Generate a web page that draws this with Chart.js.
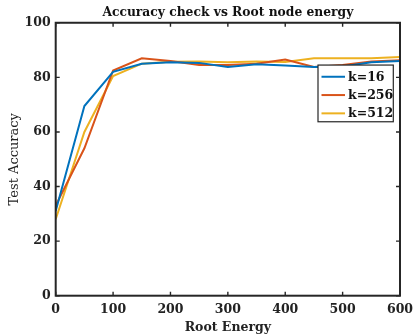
<!DOCTYPE html>
<html>
<head>
<meta charset="utf-8">
<script src="https://cdn.jsdelivr.net/npm/chart.js@4.4.1/dist/chart.umd.min.js"></script>
<style>
html,body{margin:0;padding:0;background:#fff;}
#wrap{width:414px;height:335px;position:relative;}
</style>
</head>
<body>
<div id="wrap"><canvas id="c" width="414" height="335"></canvas></div>
<script>
// ---- data ----
const rootEnergy = [0, 50, 100, 150, 200, 250, 300, 350, 400, 450, 500, 550, 600];
const accK16  = [31, 69.5, 82, 85, 85.5, 85.3, 83.8, 84.8, 84.3, 83.8, 84, 85.5, 86];
const accK256 = [33, 54, 82.5, 87, 86, 84.5, 84.5, 85, 86.5, 83.8, 84.5, 85.8, 86.3];
const accK512 = [28, 60, 80.5, 85, 85.7, 85.8, 85.5, 85.8, 85.6, 87, 87, 87, 87.5];
const seriesLabels = ['k=16', 'k=256', 'k=512'];
const xTickStep = 100;
const yTickStep = 20;

const colors = ['#0072BD', '#D95319', '#EDB120'];
const axisColor = '#262626';
const serif = '"DejaVu Serif", "Liberation Serif", serif';

function pts(vals){ return rootEnergy.map((e,i)=>({x:e, y:vals[i]})); }

const boxPlugin = {
  id: 'matlabBox',
  afterDatasetsDraw(chart){
    const ctx = chart.ctx;
    const a = chart.chartArea;
    const xs = chart.scales.x, ys = chart.scales.y;
    ctx.save();
    ctx.strokeStyle = axisColor;
    ctx.lineWidth = 2;
    ctx.strokeRect(a.left, a.top, a.right - a.left, a.bottom - a.top);
    ctx.lineWidth = 1.4;
    const tl = 4;
    ctx.beginPath();
    xs.ticks.forEach(t=>{
      const p = xs.getPixelForValue(t.value);
      ctx.moveTo(p, a.bottom); ctx.lineTo(p, a.bottom - tl);
      ctx.moveTo(p, a.top); ctx.lineTo(p, a.top + tl);
    });
    ys.ticks.forEach(t=>{
      const p = ys.getPixelForValue(t.value);
      ctx.moveTo(a.left, p); ctx.lineTo(a.left + tl, p);
      ctx.moveTo(a.right, p); ctx.lineTo(a.right - tl, p);
    });
    ctx.stroke();

    // legend box
    const bw = 75.3, bh = 56.7;
    const bx = a.right - 6.7 - bw, by = a.top + 42.3;
    ctx.fillStyle = '#fff';
    ctx.fillRect(bx, by, bw, bh);
    ctx.lineWidth = 1.2;
    ctx.strokeStyle = axisColor;
    ctx.strokeRect(bx, by, bw, bh);
    ctx.font = 'bold 12.5px ' + serif;
    ctx.textBaseline = 'middle';
    ctx.textAlign = 'left';
    chart.data.datasets.forEach((ds, i)=>{
      const yy = by + 11.7 + i * 18.3;
      ctx.strokeStyle = ds.borderColor;
      ctx.lineWidth = 2;
      ctx.beginPath();
      ctx.moveTo(bx + 3.5, yy); ctx.lineTo(bx + 27, yy);
      ctx.stroke();
      ctx.fillStyle = '#111';
      ctx.fillText(ds.label, bx + 30, yy + 0.5);
    });
    ctx.restore();
  }
};

new Chart(document.getElementById('c'), {
  type: 'line',
  data: {
    datasets: [
      {label: seriesLabels[0], data: pts(accK16), borderColor: colors[0]},
      {label: seriesLabels[1], data: pts(accK256), borderColor: colors[1]},
      {label: seriesLabels[2], data: pts(accK512), borderColor: colors[2]}
    ].map(d=>Object.assign(d, {borderWidth: 2, pointRadius: 0, fill: false, tension: 0, backgroundColor: d.borderColor}))
  },
  options: {
    responsive: false,
    animation: false,
    devicePixelRatio: 1,
    layout: {padding: 0},
    plugins: {
      legend: {display: false},
      tooltip: {enabled: false},
      title: {
        display: true,
        fullSize: false,
        text: 'Accuracy check vs Root node energy',
        color: '#111',
        font: {family: serif, size: 12.3, weight: 'bold', lineHeight: 1.2},
        padding: {top: 5.5, bottom: 2.5}
      }
    },
    scales: {
      x: {
        type: 'linear',
        min: 0, max: 600,
        grid: {display: false, drawTicks: false},
        border: {display: false},
        ticks: {stepSize: xTickStep, color: '#222', padding: 7, maxRotation: 0,
                font: {family: serif, size: 12.5, weight: 'bold'}},
        title: {display: true, text: 'Root Energy', color: '#222',
                font: {family: serif, size: 12.5, weight: 'bold', lineHeight: 1.2},
                padding: {top: 0, bottom: 0}},
        afterFit(s){ s.height = 39.3; s.paddingRight = 14; s.paddingLeft = 0; }
      },
      y: {
        type: 'linear',
        min: 0, max: 100,
        grid: {display: false, drawTicks: false},
        border: {display: false},
        ticks: {stepSize: yTickStep, color: '#222', padding: 5,
                font: {family: serif, size: 12.5, weight: 'bold'}},
        title: {display: true, text: 'Test Accuracy', color: '#222',
                font: {family: serif, size: 13, weight: 'normal', lineHeight: 1.2},
                padding: {top: 7, bottom: 0}},
        afterFit(s){ s.width = 55.7; s.paddingTop = 0; s.paddingBottom = 0; }
      }
    }
  },
  plugins: [boxPlugin]
});
</script>
</body>
</html>
